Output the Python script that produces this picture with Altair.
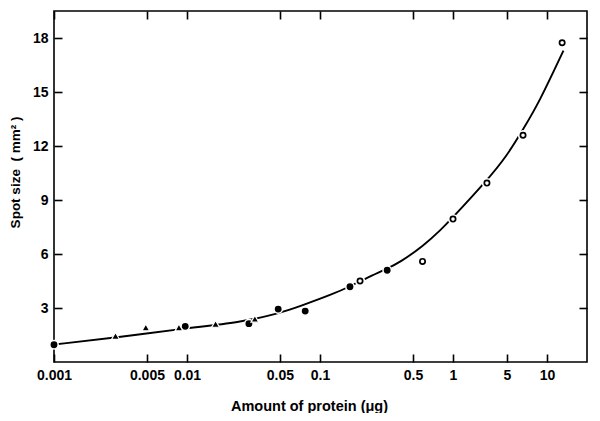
import altair as alt
import pandas as pd

# ---- data ----
tri_x = [0.0029, 0.0049, 0.0087, 0.0164, 0.0324]
tri_y = [1.45, 1.92, 1.92, 2.12, 2.4]

filled_x = [0.001, 0.0097, 0.0292, 0.0485, 0.0774, 0.168, 0.32]
filled_y = [0.96, 1.98, 2.13, 2.94, 2.83, 4.18, 5.1]

open_x = [0.2, 0.59, 1.0, 2.75, 6.6, 13.0]
open_y = [4.5, 5.59, 7.94, 9.94, 12.6, 17.74]

curve_x = [0.001, 0.0029, 0.0097, 0.025, 0.0485, 0.071, 0.126, 0.168, 0.224,
           0.317, 0.4, 0.6, 0.8, 1.0, 2.73, 5, 6.63, 8.73, 13.3]
curve_y = [0.97, 1.35, 1.87, 2.2, 2.68, 3.1, 3.78, 4.2, 4.67,
           5.17, 5.54, 6.46, 7.3, 8.04, 10.07, 11.46, 12.94, 14.43, 17.3]

x_ticks = [0.001, 0.005, 0.01, 0.05, 0.1, 0.5, 1, 5, 10]
y_ticks = [3, 6, 9, 12, 15, 18]

tri_df = pd.DataFrame({"x": tri_x, "y": tri_y})
filled_df = pd.DataFrame({"x": filled_x, "y": filled_y})
open_df = pd.DataFrame({"x": open_x, "y": open_y})
curve_df = pd.DataFrame({"x": curve_x, "y": curve_y})

FONT = "Liberation Sans"
NB = "\u00a0"

# the original's log axis is drawn with uneven spacing above 1, so use a piecewise log scale
xscale = alt.Scale(type="log", domain=[0.001, 1, 5, 20], range=[0, 399, 453, 533], nice=False)
yscale = alt.Scale(domain=[0, 19.5], nice=False, zero=False)

common = dict(domain=False, grid=False, tickColor="black", tickWidth=1.6,
              tickSize=8, offset=-8, labelColor="black", labelFont=FONT,
              labelFontSize=14, labelFontWeight="bold", titleColor="black",
              titleFont=FONT, titleFontWeight="bold")

x_bottom = alt.Axis(orient="bottom", values=x_ticks, format="~g", labelPadding=6,
                    labelFlush=False, labelOverlap=False,
                    title="Amount of protein (μg)", titleFontSize=14.5,
                    titleX=255, titleY=56,
                    titleBaseline="alphabetic", titleAlign="center", **common)
y_left = alt.Axis(orient="left", values=y_ticks, labelPadding=6,
                  title=f"Spot{NB}size{NB}{NB}({NB}mm²{NB})", titleFontSize=13.5,
                  titleX=-43, titleY=161,
                  titleAlign="center", titleBaseline="alphabetic", **common)
x_top = alt.Axis(orient="top", values=x_ticks, labels=False, title="", **common)
y_right = alt.Axis(orient="right", values=y_ticks, labels=False, title="", **common)

line = alt.Chart(curve_df).mark_line(color="black", strokeWidth=1.9, interpolate="basis").encode(
    x=alt.X("x:Q", scale=xscale, axis=x_top),
    y=alt.Y("y:Q", scale=yscale, axis=y_right),
)

filled = alt.Chart(filled_df).mark_point(
    shape="circle", filled=True, fill="black", stroke="white", strokeWidth=1.5,
    size=70, opacity=1, fillOpacity=1, strokeOpacity=1
).encode(
    x=alt.X("x:Q", scale=xscale, axis=x_bottom),
    y=alt.Y("y:Q", scale=yscale, axis=y_left),
)

tri = alt.Chart(tri_df).mark_point(
    shape="triangle-up", filled=True, fill="black", stroke="white", strokeWidth=1.2,
    size=62, opacity=1, fillOpacity=1, strokeOpacity=1
).encode(
    x=alt.X("x:Q", scale=xscale, axis=None),
    y=alt.Y("y:Q", scale=yscale, axis=None),
)

open_halo = alt.Chart(open_df).mark_point(
    shape="circle", filled=True, fill="white", stroke="white", strokeWidth=2,
    size=70, opacity=1, fillOpacity=1, strokeOpacity=1
).encode(
    x=alt.X("x:Q", scale=xscale, axis=None),
    y=alt.Y("y:Q", scale=yscale, axis=None),
)

open_pts = alt.Chart(open_df).mark_point(
    shape="circle", filled=False, fill="white", stroke="black", strokeWidth=1.7,
    size=28, opacity=1, fillOpacity=1, strokeOpacity=1
).encode(
    x=alt.X("x:Q", scale=xscale, axis=None),
    y=alt.Y("y:Q", scale=yscale, axis=None),
)

chart = alt.layer(line, filled, tri, open_halo, open_pts).resolve_axis(
    x="independent", y="independent"
).properties(
    width=533, height=351,
    autosize=alt.AutoSizeParams(type="none"),
    padding={"left": 46, "top": 3, "right": 5, "bottom": 51},
    background="white",
).configure_view(stroke="black", strokeWidth=1.6)

chart.save("out.html", embed_options={"renderer": "svg", "actions": False})
